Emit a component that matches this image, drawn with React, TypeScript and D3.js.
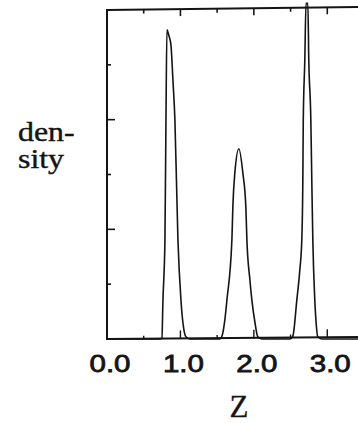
import React from "react";
import * as d3 from "d3";

// Density curve points: Z values and density values
const zValues = [
  0.0, 0.721, 0.748, 0.762, 0.789, 0.803, 0.816, 0.844, 0.871, 0.898, 0.925, 0.966, 1.007, 1.048, 1.075, 1.129,
  1.537, 1.565, 1.605, 1.633, 1.701, 1.714, 1.741, 1.796, 1.850, 1.891, 1.905, 1.946, 1.973, 2.014, 2.054, 2.109,
  2.490, 2.531, 2.585, 2.626, 2.653, 2.667, 2.673, 2.694, 2.710, 2.735, 2.748, 2.776, 2.789, 2.803, 2.830, 2.850, 2.871, 2.925,
  3.5,
];
const densityValues = [
  0, 0, 0.02, 0.71, 1.81, 3.99, 5.64, 5.53, 5.36, 4.72, 3.99, 1.81, 0.71, 0.16, 0.04, 0,
  0, 0.05, 0.35, 0.71, 1.81, 2.41, 3.03, 3.47, 3.03, 2.41, 1.81, 1.08, 0.71, 0.31, 0.04, 0,
  0, 0.05, 0.71, 1.26, 1.81, 2.90, 3.99, 5.09, 6.12, 6.12, 5.09, 3.99, 2.90, 1.81, 0.71, 0.26, 0.04, 0,
  0,
];

const xTickValues = [0.5, 1, 1.5, 2, 2.5, 3, 3.5];
const xTickLabels = ["0.0", "1.0", "2.0", "3.0"];
const xLabelValues = [0, 1, 2, 3];
const yTickValues = [1, 2, 3, 4, 5];

const W = 358;
const H = 423;

const SERIF = "'Liberation Serif', 'Times New Roman', Times, serif";
const SANS = "'Liberation Sans', Arial, Helvetica, sans-serif";

export default function App() {
  const x = d3.scaleLinear().domain([0, 3.5]).range([107, 364]);
  const y = d3.scaleLinear().domain([0, 6]).range([339, 10]);

  const pts = zValues.map((z, i) => [z, densityValues[i]] as [number, number]);
  const line = d3
    .line<[number, number]>()
    .x((d) => x(d[0]))
    .y((d) => y(d[1]))
    .curve(d3.curveMonotoneX);

  const ink = "#141414";
  const isMajorX = (v: number) => Math.abs(v - Math.round(v)) < 1e-6;
  const isMajorY = (v: number) => v % 2 === 0;

  return (
    <svg
      width={W}
      height={H}
      style={{ position: "absolute", left: 0, top: 0, background: "#fff" }}
    >
      <rect x={0} y={0} width={W} height={H} fill="#fff" />
      {/* frame */}
      <line x1={x(0)} y1={y(6) - 1} x2={x(0)} y2={y(0) + 1} stroke={ink} strokeWidth={2} />
      <line x1={x(0)} y1={y(6)} x2={x(3.5)} y2={y(6) - 3} stroke={ink} strokeWidth={2} />
      <line x1={x(0)} y1={y(0)} x2={x(3.5)} y2={y(0) - 2} stroke={ink} strokeWidth={2} />

      {/* top ticks */}
      {xTickValues.map((v) => (
        <line
          key={"t" + v}
          x1={x(v)}
          x2={x(v)}
          y1={y(6) - 0.9 * v}
          y2={y(6) - 0.9 * v + (isMajorX(v) ? 7 : 4)}
          stroke={ink}
          strokeWidth={1.6}
        />
      ))}
      {/* bottom ticks */}
      {xTickValues.map((v) => (
        <line
          key={"b" + v}
          x1={x(v)}
          x2={x(v)}
          y1={y(0) - 0.6 * v}
          y2={y(0) - 0.6 * v - (isMajorX(v) ? 8 : 3)}
          stroke={ink}
          strokeWidth={1.4}
        />
      ))}
      {/* left ticks */}
      {yTickValues.map((v) => (
        <line
          key={"l" + v}
          x1={x(0)}
          x2={x(0) + (isMajorY(v) ? 8 : 4)}
          y1={y(v)}
          y2={y(v)}
          stroke={ink}
          strokeWidth={1.6}
        />
      ))}

      {/* density curve */}
      <path d={line(pts) || ""} fill="none" stroke={ink} strokeWidth={1.6} strokeLinejoin="round" />

      {/* x tick labels */}
      {xLabelValues.map((v, i) => (
        <text
          key={"xl" + v}
          x={x(v) + 3}
          y={372}
          textAnchor="middle"
          fontFamily={SANS}
          fontSize={24}
          fill={ink}
          stroke={ink}
          strokeWidth={0.8}
          textLength={41}
          lengthAdjust="spacingAndGlyphs"
        >
          {xTickLabels[i]}
        </text>
      ))}

      {/* axis titles */}
      <text
        x={239}
        y={417}
        textAnchor="middle"
        fontFamily={SERIF}
        fontSize={31}
        fill={ink}
        stroke={ink}
        strokeWidth={0.3}
      >
        Z
      </text>
      <g transform="translate(18,0) scale(1.18,1)">
        <text
          x={0}
          y={141}
          fontFamily={SERIF}
          fontSize={27}
          fill={ink}
          stroke={ink}
          strokeWidth={0.4}
        >
          den-
        </text>
        <text
          x={0}
          y={168}
          fontFamily={SERIF}
          fontSize={27}
          fill={ink}
          stroke={ink}
          strokeWidth={0.4}
        >
          sity
        </text>
      </g>
    </svg>
  );
}
